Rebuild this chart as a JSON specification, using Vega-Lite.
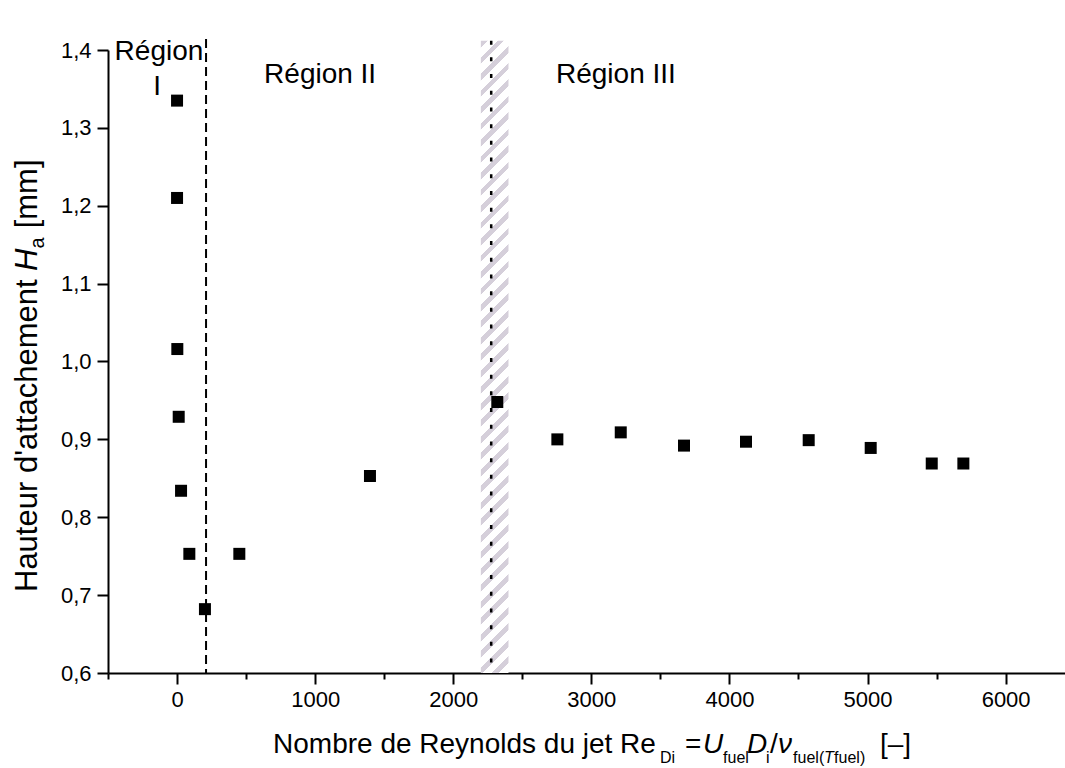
{
  "$schema": "https://vega.github.io/schema/vega-lite/v6.json",
  "width": 957,
  "height": 623,
  "autosize": {"type": "none"},
  "padding": {"left": 108, "top": 50, "right": 0, "bottom": 95},
  "background": "white",
  "config": {
    "view": {"stroke": null},
    "font": "Liberation Sans",
    "text": {"font": "Liberation Sans", "color": "black"}
  },
  "data": {"values": [{}]},
  "datasets": {
    "points": [
      {"Re": 0, "Ha": 1.335},
      {"Re": 0, "Ha": 1.21},
      {"Re": 2, "Ha": 1.016},
      {"Re": 12, "Ha": 0.929},
      {"Re": 29, "Ha": 0.834},
      {"Re": 89, "Ha": 0.753},
      {"Re": 202, "Ha": 0.682},
      {"Re": 451, "Ha": 0.753},
      {"Re": 1397, "Ha": 0.853},
      {"Re": 2319, "Ha": 0.948},
      {"Re": 2754, "Ha": 0.9},
      {"Re": 3213, "Ha": 0.909},
      {"Re": 3671, "Ha": 0.892},
      {"Re": 4120, "Ha": 0.897},
      {"Re": 4574, "Ha": 0.899},
      {"Re": 5023, "Ha": 0.889},
      {"Re": 5465, "Ha": 0.869},
      {"Re": 5694, "Ha": 0.869}
    ]
  },
  "layer": [
    {
      "mark": {
        "type": "rect",
        "fill": {
          "gradient": "linear", "x1": 0, "y1": 0, "x2": 0.0455, "y2": 1.0417,
          "stops": [
            {"offset": 0, "color": "#d5cfda"}, {"offset": 0.01, "color": "#d5cfda"}, {"offset": 0.01, "color": "#ffffff"}, {"offset": 0.025, "color": "#ffffff"},
            {"offset": 0.025, "color": "#d5cfda"}, {"offset": 0.035, "color": "#d5cfda"}, {"offset": 0.035, "color": "#ffffff"}, {"offset": 0.05, "color": "#ffffff"},
            {"offset": 0.05, "color": "#d5cfda"}, {"offset": 0.06, "color": "#d5cfda"}, {"offset": 0.06, "color": "#ffffff"}, {"offset": 0.075, "color": "#ffffff"},
            {"offset": 0.075, "color": "#d5cfda"}, {"offset": 0.085, "color": "#d5cfda"}, {"offset": 0.085, "color": "#ffffff"}, {"offset": 0.1, "color": "#ffffff"},
            {"offset": 0.1, "color": "#d5cfda"}, {"offset": 0.11, "color": "#d5cfda"}, {"offset": 0.11, "color": "#ffffff"}, {"offset": 0.125, "color": "#ffffff"},
            {"offset": 0.125, "color": "#d5cfda"}, {"offset": 0.135, "color": "#d5cfda"}, {"offset": 0.135, "color": "#ffffff"}, {"offset": 0.15, "color": "#ffffff"},
            {"offset": 0.15, "color": "#d5cfda"}, {"offset": 0.16, "color": "#d5cfda"}, {"offset": 0.16, "color": "#ffffff"}, {"offset": 0.175, "color": "#ffffff"},
            {"offset": 0.175, "color": "#d5cfda"}, {"offset": 0.185, "color": "#d5cfda"}, {"offset": 0.185, "color": "#ffffff"}, {"offset": 0.2, "color": "#ffffff"},
            {"offset": 0.2, "color": "#d5cfda"}, {"offset": 0.21, "color": "#d5cfda"}, {"offset": 0.21, "color": "#ffffff"}, {"offset": 0.225, "color": "#ffffff"},
            {"offset": 0.225, "color": "#d5cfda"}, {"offset": 0.235, "color": "#d5cfda"}, {"offset": 0.235, "color": "#ffffff"}, {"offset": 0.25, "color": "#ffffff"},
            {"offset": 0.25, "color": "#d5cfda"}, {"offset": 0.26, "color": "#d5cfda"}, {"offset": 0.26, "color": "#ffffff"}, {"offset": 0.275, "color": "#ffffff"},
            {"offset": 0.275, "color": "#d5cfda"}, {"offset": 0.285, "color": "#d5cfda"}, {"offset": 0.285, "color": "#ffffff"}, {"offset": 0.3, "color": "#ffffff"},
            {"offset": 0.3, "color": "#d5cfda"}, {"offset": 0.31, "color": "#d5cfda"}, {"offset": 0.31, "color": "#ffffff"}, {"offset": 0.325, "color": "#ffffff"},
            {"offset": 0.325, "color": "#d5cfda"}, {"offset": 0.335, "color": "#d5cfda"}, {"offset": 0.335, "color": "#ffffff"}, {"offset": 0.35, "color": "#ffffff"},
            {"offset": 0.35, "color": "#d5cfda"}, {"offset": 0.36, "color": "#d5cfda"}, {"offset": 0.36, "color": "#ffffff"}, {"offset": 0.375, "color": "#ffffff"},
            {"offset": 0.375, "color": "#d5cfda"}, {"offset": 0.385, "color": "#d5cfda"}, {"offset": 0.385, "color": "#ffffff"}, {"offset": 0.4, "color": "#ffffff"},
            {"offset": 0.4, "color": "#d5cfda"}, {"offset": 0.41, "color": "#d5cfda"}, {"offset": 0.41, "color": "#ffffff"}, {"offset": 0.425, "color": "#ffffff"},
            {"offset": 0.425, "color": "#d5cfda"}, {"offset": 0.435, "color": "#d5cfda"}, {"offset": 0.435, "color": "#ffffff"}, {"offset": 0.45, "color": "#ffffff"},
            {"offset": 0.45, "color": "#d5cfda"}, {"offset": 0.46, "color": "#d5cfda"}, {"offset": 0.46, "color": "#ffffff"}, {"offset": 0.475, "color": "#ffffff"},
            {"offset": 0.475, "color": "#d5cfda"}, {"offset": 0.485, "color": "#d5cfda"}, {"offset": 0.485, "color": "#ffffff"}, {"offset": 0.5, "color": "#ffffff"},
            {"offset": 0.5, "color": "#d5cfda"}, {"offset": 0.51, "color": "#d5cfda"}, {"offset": 0.51, "color": "#ffffff"}, {"offset": 0.525, "color": "#ffffff"},
            {"offset": 0.525, "color": "#d5cfda"}, {"offset": 0.535, "color": "#d5cfda"}, {"offset": 0.535, "color": "#ffffff"}, {"offset": 0.55, "color": "#ffffff"},
            {"offset": 0.55, "color": "#d5cfda"}, {"offset": 0.56, "color": "#d5cfda"}, {"offset": 0.56, "color": "#ffffff"}, {"offset": 0.575, "color": "#ffffff"},
            {"offset": 0.575, "color": "#d5cfda"}, {"offset": 0.585, "color": "#d5cfda"}, {"offset": 0.585, "color": "#ffffff"}, {"offset": 0.6, "color": "#ffffff"},
            {"offset": 0.6, "color": "#d5cfda"}, {"offset": 0.61, "color": "#d5cfda"}, {"offset": 0.61, "color": "#ffffff"}, {"offset": 0.625, "color": "#ffffff"},
            {"offset": 0.625, "color": "#d5cfda"}, {"offset": 0.635, "color": "#d5cfda"}, {"offset": 0.635, "color": "#ffffff"}, {"offset": 0.65, "color": "#ffffff"},
            {"offset": 0.65, "color": "#d5cfda"}, {"offset": 0.66, "color": "#d5cfda"}, {"offset": 0.66, "color": "#ffffff"}, {"offset": 0.675, "color": "#ffffff"},
            {"offset": 0.675, "color": "#d5cfda"}, {"offset": 0.685, "color": "#d5cfda"}, {"offset": 0.685, "color": "#ffffff"}, {"offset": 0.7, "color": "#ffffff"},
            {"offset": 0.7, "color": "#d5cfda"}, {"offset": 0.71, "color": "#d5cfda"}, {"offset": 0.71, "color": "#ffffff"}, {"offset": 0.725, "color": "#ffffff"},
            {"offset": 0.725, "color": "#d5cfda"}, {"offset": 0.735, "color": "#d5cfda"}, {"offset": 0.735, "color": "#ffffff"}, {"offset": 0.75, "color": "#ffffff"},
            {"offset": 0.75, "color": "#d5cfda"}, {"offset": 0.76, "color": "#d5cfda"}, {"offset": 0.76, "color": "#ffffff"}, {"offset": 0.775, "color": "#ffffff"},
            {"offset": 0.775, "color": "#d5cfda"}, {"offset": 0.785, "color": "#d5cfda"}, {"offset": 0.785, "color": "#ffffff"}, {"offset": 0.8, "color": "#ffffff"},
            {"offset": 0.8, "color": "#d5cfda"}, {"offset": 0.81, "color": "#d5cfda"}, {"offset": 0.81, "color": "#ffffff"}, {"offset": 0.825, "color": "#ffffff"},
            {"offset": 0.825, "color": "#d5cfda"}, {"offset": 0.835, "color": "#d5cfda"}, {"offset": 0.835, "color": "#ffffff"}, {"offset": 0.85, "color": "#ffffff"},
            {"offset": 0.85, "color": "#d5cfda"}, {"offset": 0.86, "color": "#d5cfda"}, {"offset": 0.86, "color": "#ffffff"}, {"offset": 0.875, "color": "#ffffff"},
            {"offset": 0.875, "color": "#d5cfda"}, {"offset": 0.885, "color": "#d5cfda"}, {"offset": 0.885, "color": "#ffffff"}, {"offset": 0.9, "color": "#ffffff"},
            {"offset": 0.9, "color": "#d5cfda"}, {"offset": 0.91, "color": "#d5cfda"}, {"offset": 0.91, "color": "#ffffff"}, {"offset": 0.925, "color": "#ffffff"},
            {"offset": 0.925, "color": "#d5cfda"}, {"offset": 0.935, "color": "#d5cfda"}, {"offset": 0.935, "color": "#ffffff"}, {"offset": 0.95, "color": "#ffffff"},
            {"offset": 0.95, "color": "#d5cfda"}, {"offset": 0.96, "color": "#d5cfda"}, {"offset": 0.96, "color": "#ffffff"}, {"offset": 0.975, "color": "#ffffff"},
            {"offset": 0.975, "color": "#d5cfda"}, {"offset": 0.985, "color": "#d5cfda"}, {"offset": 0.985, "color": "#ffffff"}, {"offset": 1, "color": "#ffffff"}
          ]
        }
      },
      "encoding": {
        "x": {"datum": 2200, "type": "quantitative"},
        "x2": {"datum": 2400},
        "y": {"datum": 0.6, "type": "quantitative"},
        "y2": {"datum": 1.412}
      }
    },
    {
      "mark": {"type": "rule", "color": "black", "strokeWidth": 2, "strokeDash": [9, 5]},
      "encoding": {
        "x": {"datum": 210, "type": "quantitative"},
        "y": {"datum": 1.414, "type": "quantitative"},
        "y2": {"datum": 0.6}
      }
    },
    {
      "mark": {"type": "rule", "color": "black", "strokeWidth": 2.5, "strokeDash": [4, 12.7]},
      "encoding": {
        "x": {"datum": 2275, "type": "quantitative"},
        "y": {"datum": 1.412, "type": "quantitative"},
        "y2": {"datum": 0.6}
      }
    },
    {
      "data": {"name": "points"},
      "mark": {"type": "point", "shape": "square", "filled": true, "size": 144, "color": "black", "opacity": 1},
      "encoding": {
        "x": {
          "field": "Re", "type": "quantitative",
          "scale": {"domain": [-500, 6430], "nice": false, "zero": false},
          "axis": {
            "title": null,
            "values": [-500, 0, 500, 1000, 1500, 2000, 2500, 3000, 3500, 4000, 4500, 5000, 5500, 6000],
            "labelExpr": "datum.value % 1000 === 0 ? format(datum.value, 'd') : ''",
            "labelFont": "Liberation Sans", "labelFontSize": 22, "labelColor": "black",
            "labelPadding": 5, "labelFlush": false, "labelOverlap": false,
            "domainColor": "black", "domainWidth": 2,
            "tickColor": "black", "tickWidth": 2,
            "tickSize": {"condition": {"test": "datum.value % 1000 !== 0", "value": 6}, "value": 11},
            "grid": false
          }
        },
        "y": {
          "field": "Ha", "type": "quantitative",
          "scale": {"domain": [0.6, 1.4], "nice": false, "zero": false},
          "axis": {
            "title": null,
            "values": [0.6, 0.65, 0.7, 0.75, 0.8, 0.85, 0.9, 0.95, 1.0, 1.05, 1.1, 1.15, 1.2, 1.25, 1.3, 1.35, 1.4],
            "labelExpr": "abs(datum.value*10 - round(datum.value*10)) > 0.001 ? '' : replace(format(datum.value, '.1f'), '.', ',')",
            "labelFont": "Liberation Sans", "labelFontSize": 22, "labelColor": "black",
            "labelPadding": 6, "labelFlush": false, "labelOverlap": false,
            "domainColor": "black", "domainWidth": 2,
            "tickColor": "black", "tickWidth": 2,
            "tickSize": {"condition": {"test": "abs(datum.value*10 - round(datum.value*10)) > 0.001", "value": 6}, "value": 11},
            "grid": false
          }
        }
      }
    },
    {
      "mark": {"type": "text", "text": "Région", "fontSize": 28, "align": "center", "baseline": "alphabetic"},
      "encoding": {"x": {"datum": -131, "type": "quantitative"}, "y": {"datum": 1.3872, "type": "quantitative"}}
    },
    {
      "mark": {"type": "text", "text": "I", "fontSize": 28, "align": "center", "baseline": "alphabetic"},
      "encoding": {"x": {"datum": -145, "type": "quantitative"}, "y": {"datum": 1.342, "type": "quantitative"}}
    },
    {
      "mark": {"type": "text", "text": "Région II", "fontSize": 28, "align": "center", "baseline": "alphabetic"},
      "encoding": {"x": {"datum": 1036, "type": "quantitative"}, "y": {"datum": 1.3576, "type": "quantitative"}}
    },
    {
      "mark": {"type": "text", "text": "Région III", "fontSize": 28, "align": "center", "baseline": "alphabetic"},
      "encoding": {"x": {"datum": 3178, "type": "quantitative"}, "y": {"datum": 1.3576, "type": "quantitative"}}
    },
    {
      "mark": {"type": "text", "text": "Nombre de Reynolds du jet Re", "fontSize": 28, "align": "left", "baseline": "alphabetic"},
      "encoding": {"x": {"datum": 695, "type": "quantitative"}, "y": {"datum": 0.4973, "type": "quantitative"}}
    },
    {
      "mark": {"type": "text", "text": "Di", "fontSize": 16, "align": "left", "baseline": "alphabetic"},
      "encoding": {"x": {"datum": 3497, "type": "quantitative"}, "y": {"datum": 0.4844, "type": "quantitative"}}
    },
    {
      "mark": {"type": "text", "text": "=", "fontSize": 28, "align": "left", "baseline": "alphabetic"},
      "encoding": {"x": {"datum": 3678, "type": "quantitative"}, "y": {"datum": 0.4973, "type": "quantitative"}}
    },
    {
      "mark": {"type": "text", "text": "U", "fontSize": 28, "fontStyle": "italic", "align": "left", "baseline": "alphabetic"},
      "encoding": {"x": {"datum": 3809, "type": "quantitative"}, "y": {"datum": 0.4973, "type": "quantitative"}}
    },
    {
      "mark": {"type": "text", "text": "fuel", "fontSize": 16, "align": "left", "baseline": "alphabetic"},
      "encoding": {"x": {"datum": 3954, "type": "quantitative"}, "y": {"datum": 0.4844, "type": "quantitative"}}
    },
    {
      "mark": {"type": "text", "text": "D", "fontSize": 28, "fontStyle": "italic", "align": "left", "baseline": "alphabetic"},
      "encoding": {"x": {"datum": 4127, "type": "quantitative"}, "y": {"datum": 0.4973, "type": "quantitative"}}
    },
    {
      "mark": {"type": "text", "text": "i", "fontSize": 16, "align": "left", "baseline": "alphabetic"},
      "encoding": {"x": {"datum": 4265, "type": "quantitative"}, "y": {"datum": 0.4844, "type": "quantitative"}}
    },
    {
      "mark": {"type": "text", "text": "/", "fontSize": 28, "align": "left", "baseline": "alphabetic"},
      "encoding": {"x": {"datum": 4294, "type": "quantitative"}, "y": {"datum": 0.4973, "type": "quantitative"}}
    },
    {
      "mark": {"type": "text", "text": "ν", "fontSize": 28, "fontStyle": "italic", "align": "left", "baseline": "alphabetic"},
      "encoding": {"x": {"datum": 4352, "type": "quantitative"}, "y": {"datum": 0.4973, "type": "quantitative"}}
    },
    {
      "mark": {"type": "text", "text": "fuel(", "fontSize": 16, "align": "left", "baseline": "alphabetic"},
      "encoding": {"x": {"datum": 4461, "type": "quantitative"}, "y": {"datum": 0.4844, "type": "quantitative"}}
    },
    {
      "mark": {"type": "text", "text": "T", "fontSize": 16, "fontStyle": "italic", "align": "left", "baseline": "alphabetic"},
      "encoding": {"x": {"datum": 4685, "type": "quantitative"}, "y": {"datum": 0.4844, "type": "quantitative"}}
    },
    {
      "mark": {"type": "text", "text": "fuel)", "fontSize": 16, "align": "left", "baseline": "alphabetic"},
      "encoding": {"x": {"datum": 4758, "type": "quantitative"}, "y": {"datum": 0.4844, "type": "quantitative"}}
    },
    {
      "mark": {"type": "text", "text": "[–]", "fontSize": 28, "align": "left", "baseline": "alphabetic"},
      "encoding": {"x": {"datum": 5090, "type": "quantitative"}, "y": {"datum": 0.4973, "type": "quantitative"}}
    },
    {
      "mark": {"type": "text", "text": "Hauteur d'attachement", "fontSize": 31, "angle": 270, "align": "left", "baseline": "alphabetic"},
      "encoding": {"x": {"datum": -1014, "type": "quantitative"}, "y": {"datum": 0.704, "type": "quantitative"}}
    },
    {
      "mark": {"type": "text", "text": "H", "fontSize": 31, "fontStyle": "italic", "angle": 270, "align": "left", "baseline": "alphabetic"},
      "encoding": {"x": {"datum": -1014, "type": "quantitative"}, "y": {"datum": 1.1162, "type": "quantitative"}}
    },
    {
      "mark": {"type": "text", "text": "a", "fontSize": 20, "angle": 270, "align": "left", "baseline": "alphabetic"},
      "encoding": {"x": {"datum": -963, "type": "quantitative"}, "y": {"datum": 1.145, "type": "quantitative"}}
    },
    {
      "mark": {"type": "text", "text": "[mm]", "fontSize": 31, "angle": 270, "align": "left", "baseline": "alphabetic"},
      "encoding": {"x": {"datum": -1014, "type": "quantitative"}, "y": {"datum": 1.171, "type": "quantitative"}}
    }
  ]
}
